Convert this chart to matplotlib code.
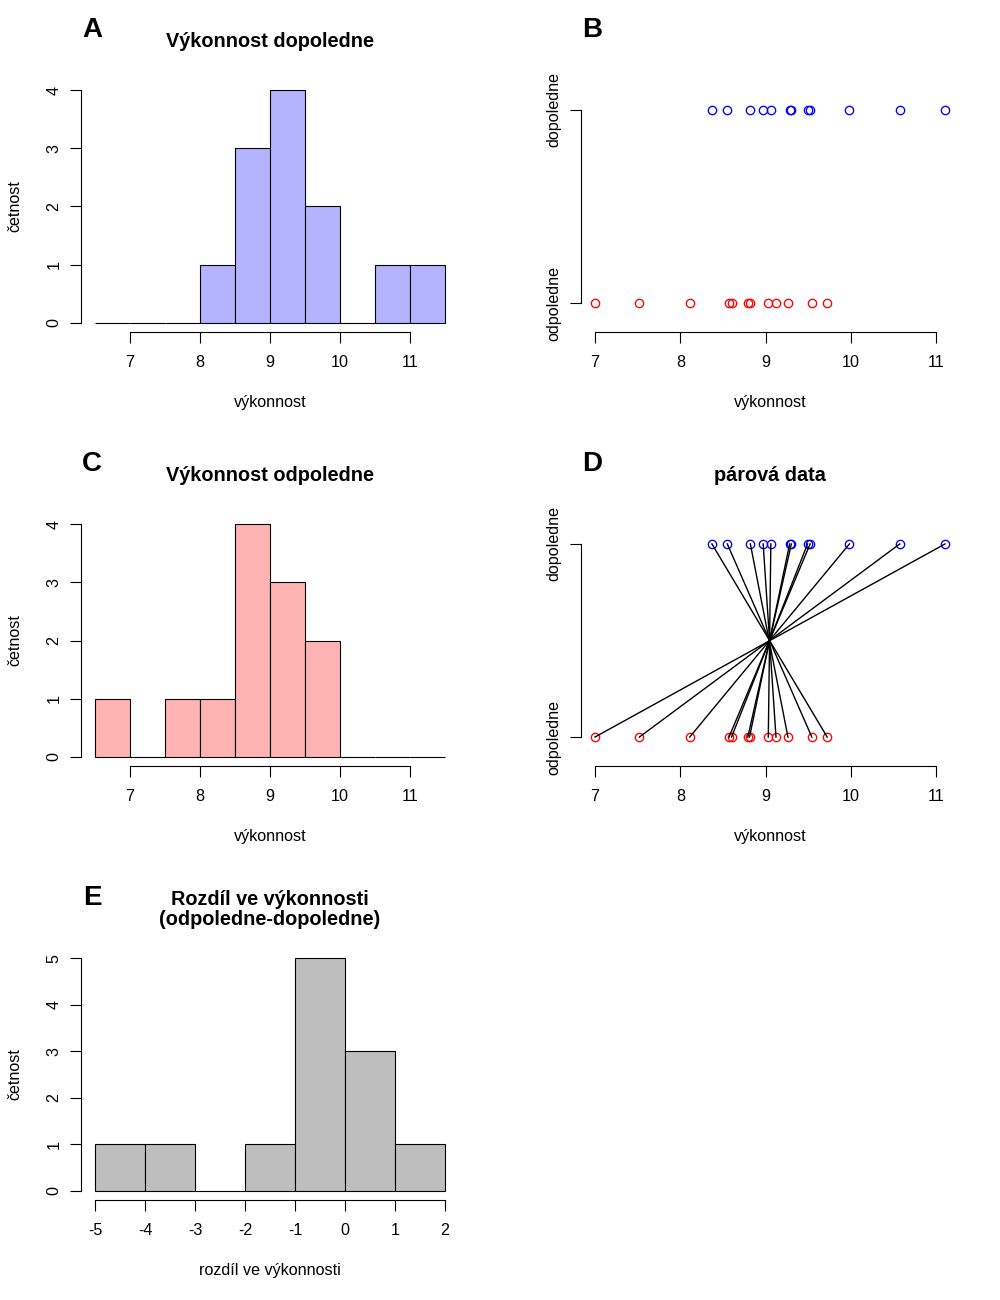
import matplotlib
matplotlib.use("Agg")
import matplotlib.pyplot as plt
import numpy as np

plt.rcParams['font.family'] = ['Liberation Sans', 'DejaVu Sans']
plt.rcParams['axes.unicode_minus'] = False

# paired data (same person morning / afternoon)
dopoledne = [8.37, 8.55, 8.82, 8.97, 9.06, 9.28, 9.30, 9.49, 9.52, 9.98, 10.57, 11.10]
odpoledne = [9.72, 9.54, 9.26, 9.12, 9.03, 8.81, 8.79, 8.60, 8.57, 8.11, 7.52, 7.00]

breaks_vyk = np.arange(6.5, 11.51, 0.5)
breaks_diff = np.arange(-5, 2.01, 1)
ticks_vyk = [7, 8, 9, 10, 11]
ticks_diff = [-5, -4, -3, -2, -1, 0, 1, 2]
group_labels = ['odpoledne', 'dopoledne']

col_dop = '#B3B3FF'
col_odp = '#FFB3B3'
col_diff = '#BEBEBE'

FS = 11.6
TICKLEN = 7.9


def counts_right_closed(x, breaks):
    # R style hist: (a, b] bins, first bin closed
    c, _ = np.histogram(-np.asarray(x), bins=-breaks[::-1])
    return c[::-1]


def panel_axes(fig, left, top):
    return fig.add_axes([left / 1000, 1 - (top + 251) / 1300, 378 / 1000, 251 / 1300])


def style(ax, xb, yb):
    for s in ['top', 'right']:
        ax.spines[s].set_visible(False)
    ax.spines['left'].set_bounds(*yb)
    ax.spines['bottom'].set_bounds(*xb)
    for s in ['left', 'bottom']:
        ax.spines[s].set_linewidth(0.8)
    ax.tick_params(direction='out', length=TICKLEN, width=0.8, labelsize=FS)
    ax.tick_params(axis='x', pad=9)
    ax.tick_params(axis='y', pad=6, labelrotation=90)
    for t in ax.get_yticklabels():
        t.set_va('center')


def titles(ax, letter, title):
    ax.text(0.029, 1.203, letter, transform=ax.transAxes, ha='center', va='center',
            fontsize=20, fontweight='bold')
    if title:
        ax.text(0.5, 1.156, title, transform=ax.transAxes, ha='center', va='center',
                fontsize=14.3, fontweight='bold', linespacing=1.05)


def xlab(ax, text):
    ax.set_xlabel(text, fontsize=FS)
    ax.xaxis.set_label_coords(0.5, -71 / 251)
    ax.xaxis.label.set_va('center')


def hist_panel(ax, values, breaks, color, ticks, letter, title, xlabel):
    counts = counts_right_closed(values, breaks)
    ax.bar(breaks[:-1], counts, width=np.diff(breaks), align='edge',
           color=color, edgecolor='black', linewidth=0.8)
    r = breaks[-1] - breaks[0]
    ax.set_xlim(breaks[0] - 0.04 * r, breaks[-1] + 0.04 * r)
    ymax = counts.max()
    ax.set_ylim(-0.04 * ymax, 1.04 * ymax)
    ax.set_xticks(ticks)
    ax.set_yticks(range(0, ymax + 1))
    style(ax, (ticks[0], ticks[-1]), (0, ymax))
    ax.set_ylabel('četnost', fontsize=FS)
    ax.yaxis.set_label_coords(-66 / 378, 0.5)
    ax.yaxis.label.set_va('center')
    xlab(ax, xlabel)
    titles(ax, letter, title)


def strip_panel(ax, letter, title, paired):
    n = len(dopoledne)
    if paired:
        for d, o in zip(dopoledne, odpoledne):
            ax.plot([d, o], [2, 1], color='black', lw=1.0, zorder=3)
    ax.plot(dopoledne, [2] * n, 'o', mfc='none', mec='blue', ms=6, mew=0.95, zorder=2)
    ax.plot(odpoledne, [1] * n, 'o', mfc='none', mec='red', ms=6, mew=0.95, zorder=2)
    allv = dopoledne + odpoledne
    lo, hi = min(allv), max(allv)
    r = hi - lo
    ax.set_xlim(lo - 0.04 * r, hi + 0.04 * r)
    ax.set_ylim(0.85, 2.15)
    ax.set_xticks(ticks_vyk)
    ax.set_yticks([1, 2])
    ax.set_yticklabels(group_labels)
    style(ax, (ticks_vyk[0], ticks_vyk[-1]), (1, 2))
    xlab(ax, 'výkonnost')
    titles(ax, letter, title)


fig = plt.figure(figsize=(10, 13), dpi=100)

axA = panel_axes(fig, 81, 81)
hist_panel(axA, dopoledne, breaks_vyk, col_dop, ticks_vyk, 'A', 'Výkonnost dopoledne', 'výkonnost')

axB = panel_axes(fig, 581, 81)
strip_panel(axB, 'B', None, False)

axC = panel_axes(fig, 81, 515)
hist_panel(axC, odpoledne, breaks_vyk, col_odp, ticks_vyk, 'C', 'Výkonnost odpoledne', 'výkonnost')

axD = panel_axes(fig, 581, 515)
strip_panel(axD, 'D', 'párová data', True)

rozdil = np.array(odpoledne) - np.array(dopoledne)
axE = panel_axes(fig, 81, 949)
hist_panel(axE, rozdil, breaks_diff, col_diff, ticks_diff, 'E',
           'Rozdíl ve výkonnosti\n(odpoledne-dopoledne)', 'rozdíl ve výkonnosti')

fig.savefig('out.png', dpi=100)
